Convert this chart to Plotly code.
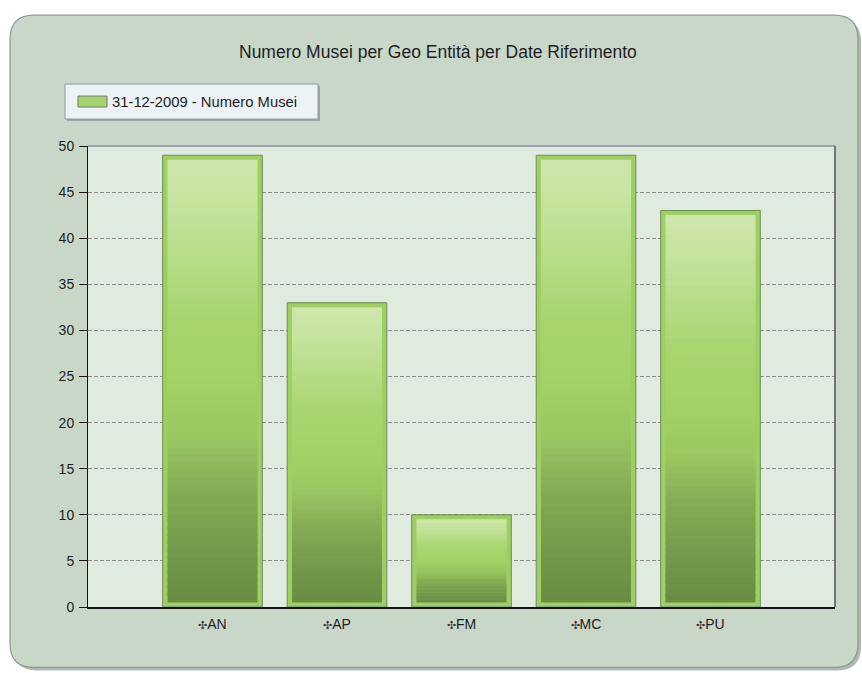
import plotly.graph_objects as go

# ---------------- data ----------------
categories = ["AN", "AP", "FM", "MC", "PU"]
values = [49, 33, 10, 49, 43]
series_name = "31-12-2009 - Numero Musei"
title_text = "Numero Musei per Geo Entità per Date Riferimento"
y_tick_values = [0, 5, 10, 15, 20, 25, 30, 35, 40, 45, 50]

# ---------------- geometry / style ----------------
W, H = 862, 673
L, R, T, B = 88, 835, 146, 607.5
YMAX = 50
FONT = "Liberation Sans, Arial, sans-serif"


def px(x):
    return (x - L) / (R - L)


def py(y):
    return (B - y) / (B - T)


def rounded_path(x0, y0, x1, y1, r):
    X, Y = px, py
    return (f"M {X(x0+r)},{Y(y0)} L {X(x1-r)},{Y(y0)} Q {X(x1)},{Y(y0)} {X(x1)},{Y(y0+r)} "
            f"L {X(x1)},{Y(y1-r)} Q {X(x1)},{Y(y1)} {X(x1-r)},{Y(y1)} "
            f"L {X(x0+r)},{Y(y1)} Q {X(x0)},{Y(y1)} {X(x0)},{Y(y1-r)} "
            f"L {X(x0)},{Y(y0+r)} Q {X(x0)},{Y(y0)} {X(x0+r)},{Y(y0)} Z")


def hex2rgb(h):
    h = h.lstrip("#")
    return tuple(int(h[i:i + 2], 16) for i in (0, 2, 4))


grad_stops = [
    (0.00, "#698c43"),
    (0.10, "#71974a"),
    (0.25, "#84ab54"),
    (0.38, "#9ac761"),
    (0.50, "#a3d267"),
    (0.65, "#a8d56f"),
    (0.80, "#b9de8c"),
    (0.92, "#c8e4a2"),
    (1.00, "#cde7aa"),
]


def grad_color(t):
    for (t0, c0), (t1, c1) in zip(grad_stops[:-1], grad_stops[1:]):
        if t0 <= t <= t1:
            f = (t - t0) / (t1 - t0) if t1 > t0 else 0
            a, b = hex2rgb(c0), hex2rgb(c1)
            rgb = [round(a[i] + (b[i] - a[i]) * f) for i in range(3)]
            return f"rgb({rgb[0]},{rgb[1]},{rgb[2]})"
    return grad_stops[-1][1]


shapes = []

# outer panel shadow + panel
shapes.append(dict(type="path", xref="paper", yref="paper", layer="below",
                   path=rounded_path(13, 18, 861, 671, 24),
                   fillcolor="#aeb8b2", line=dict(width=0)))
shapes.append(dict(type="path", xref="paper", yref="paper", layer="below",
                   path=rounded_path(10, 15, 858, 668, 24),
                   fillcolor="#c9d7c9", line=dict(color="#8b9893", width=1.2)))
# plot area background
shapes.append(dict(type="rect", xref="paper", yref="paper", layer="below",
                   x0=0, x1=1, y0=0, y1=1, fillcolor="#dfebdf", line=dict(width=0)))

# gradient fill inside each bar (anchored on bar position, heights from values)
N = 60
inset_px = 4.5
inset = inset_px * YMAX / (B - T)
half_in = 45
for i, v in enumerate(values):
    top = v - inset
    bot = inset
    h = top - bot
    for k in range(N):
        y0 = bot + h * k / N
        y1 = bot + h * (k + 1) / N + (h / N * 0.3 if k < N - 1 else 0)
        shapes.append(dict(type="rect", xref="x", yref="y", layer="above",
                           xsizemode="pixel", xanchor=i, x0=-half_in, x1=half_in,
                           y0=y0, y1=y1, fillcolor=grad_color((k + 0.5) / N),
                           line=dict(width=0)))

# plot area borders (top light, right dark)
shapes.append(dict(type="line", xref="paper", yref="paper", layer="above",
                   x0=0, x1=1, y0=1, y1=1, line=dict(color="#97a4ad", width=2)))
shapes.append(dict(type="line", xref="paper", yref="paper", layer="above",
                   x0=1, x1=1, y0=0, y1=1, line=dict(color="#4d5450", width=1.5)))

# legend box (custom)
shapes.append(dict(type="rect", xref="paper", yref="paper", layer="above",
                   x0=px(67), x1=px(320), y0=py(121), y1=py(86),
                   fillcolor="#9aa4a0", line=dict(width=0)))
shapes.append(dict(type="rect", xref="paper", yref="paper", layer="above",
                   x0=px(65), x1=px(318), y0=py(119), y1=py(84),
                   fillcolor="#ecf2f6", line=dict(color="#8e9ba3", width=1)))
shapes.append(dict(type="rect", xref="paper", yref="paper", layer="above",
                   x0=px(78), x1=px(107), y0=py(107), y1=py(96),
                   fillcolor="#a5d46c", line=dict(color="#6f7c6a", width=1)))

annotations = [
    dict(text=title_text, xref="paper", yref="paper", x=px(438), y=py(52),
         xanchor="center", yanchor="middle", showarrow=False,
         font=dict(family=FONT, size=17.5, color="#1e1e1e")),
    dict(text=series_name, xref="paper", yref="paper", x=px(110), y=py(101.5),
         xanchor="left", yanchor="middle", showarrow=False,
         font=dict(family=FONT, size=14.8, color="#1e1e1e")),
]

icon = "<span style='font-size:11px;color:#333'>✣</span>"
tick_text = [icon + c for c in categories]

fig = go.Figure()
fig.add_trace(go.Bar(
    x=list(range(len(categories))), y=values, width=0.8, name=series_name,
    marker=dict(color="#9fcf63", line=dict(color="#6c8a58", width=1)),
    showlegend=False, hoverinfo="skip",
))

fig.update_layout(
    width=W, height=H,
    margin=dict(l=L, r=W - R, t=T, b=H - B, pad=0),
    paper_bgcolor="white",
    plot_bgcolor="rgba(0,0,0,0)",
    shapes=shapes,
    annotations=annotations,
    showlegend=False,
    bargap=0.2,
    font=dict(family=FONT, size=14, color="#1e1e1e"),
)
fig.update_xaxes(
    range=[-1, 5], tickvals=list(range(len(categories))), ticktext=tick_text,
    showgrid=False, zeroline=False, showline=True, linecolor="#111", linewidth=1.5,
    ticks="", ticklabelstandoff=3, fixedrange=True,
)
fig.update_yaxes(
    range=[0, YMAX], tickvals=y_tick_values, showgrid=True, gridcolor="#8c8c8c",
    griddash="4px,2px", gridwidth=1, zeroline=False, showline=True, linecolor="#111",
    linewidth=1, ticks="outside", ticklen=8, tickcolor="#111", tickwidth=1,
    ticklabelstandoff=2, fixedrange=True,
)

fig.write_html("out.html", config={"displayModeBar": False},
               post_script="document.body.style.margin='0px';document.body.style.overflow='hidden';")
